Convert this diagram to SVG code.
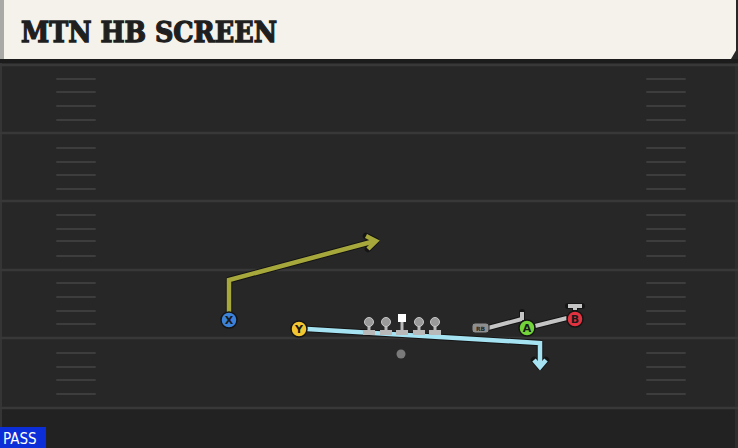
<svg xmlns="http://www.w3.org/2000/svg" width="738" height="448" viewBox="0 0 738 448">
<defs>
<style>
.yl{stroke:#383838;stroke-width:2.5}
.hs{stroke:#3d3d3d;stroke-width:2;stroke-linecap:round}
.out{fill:none;stroke:#151515;stroke-linejoin:round;stroke-linecap:round}
.xr{fill:none;stroke:#a7a83c;stroke-width:4.5;stroke-linejoin:miter;stroke-linecap:butt}
.yr{fill:none;stroke:#a6e3f2;stroke-width:4.5;stroke-linejoin:miter;stroke-linecap:butt}
.gr{fill:none;stroke:#c4c4c4;stroke-width:4;stroke-linecap:butt}
.ol{fill:#b9b9b9}
.lbl{font-family:"DejaVu Sans","Liberation Sans",sans-serif;font-weight:bold;font-size:11px;text-anchor:middle;fill:#1a1a1a}
</style>
</defs>
<rect x="0" y="0" width="738" height="448" fill="#272727"/>
<rect x="0" y="408" width="738" height="40" fill="#222222"/>
<rect x="0" y="60" width="2" height="388" fill="#353535"/>
<rect x="735" y="60" width="3" height="388" fill="#2e2e2e"/>
<g id="field">
<line class="yl" x1="0" y1="65" x2="738" y2="65"/>
<line class="yl" x1="0" y1="133" x2="738" y2="133"/>
<line class="yl" x1="0" y1="201" x2="738" y2="201"/>
<line class="yl" x1="0" y1="270" x2="738" y2="270"/>
<line class="yl" x1="0" y1="338" x2="738" y2="338"/>
<line class="yl" x1="0" y1="408" x2="738" y2="408"/>
<g id="hashL">
<line class="hs" x1="57" y1="79" x2="95" y2="79"/><line class="hs" x1="57" y1="92" x2="95" y2="92"/><line class="hs" x1="57" y1="106" x2="95" y2="106"/><line class="hs" x1="57" y1="120" x2="95" y2="120"/>
<line class="hs" x1="57" y1="148" x2="95" y2="148"/><line class="hs" x1="57" y1="162" x2="95" y2="162"/><line class="hs" x1="57" y1="175" x2="95" y2="175"/><line class="hs" x1="57" y1="189" x2="95" y2="189"/>
<line class="hs" x1="57" y1="215" x2="95" y2="215"/><line class="hs" x1="57" y1="229" x2="95" y2="229"/><line class="hs" x1="57" y1="241" x2="95" y2="241"/><line class="hs" x1="57" y1="256" x2="95" y2="256"/>
<line class="hs" x1="57" y1="283" x2="95" y2="283"/><line class="hs" x1="57" y1="297" x2="95" y2="297"/><line class="hs" x1="57" y1="311" x2="95" y2="311"/><line class="hs" x1="57" y1="324" x2="95" y2="324"/>
<line class="hs" x1="57" y1="353" x2="95" y2="353"/><line class="hs" x1="57" y1="367" x2="95" y2="367"/><line class="hs" x1="57" y1="380" x2="95" y2="380"/><line class="hs" x1="57" y1="394" x2="95" y2="394"/>
</g>
<use href="#hashL" x="590"/>
</g>
<g id="title">
<rect x="0" y="0" width="736" height="59" fill="#f5f2eb"/>
<rect x="0" y="0" width="4" height="59" fill="#a9aaa7"/>
<polygon points="731,59 738,59 738,47" fill="#272727"/>
<rect x="0" y="59" width="738" height="4" fill="#1c1c1c"/>
<text x="21" y="42" font-family="'DejaVu Serif','Liberation Serif',serif" font-weight="bold" font-size="27" fill="#1f1f1f" stroke="#1f1f1f" stroke-width="1.3" textLength="256" lengthAdjust="spacingAndGlyphs">MTN HB SCREEN</text>
</g>
<g id="connectors">
<path class="out" stroke-width="6.5" d="M229,318 V280 L375,241 M366,236 L376,241 L368,249"/>
<path class="xr" d="M229,318 V280 L375,241"/>
<path class="xr" stroke-linecap="round" stroke-linejoin="round" stroke-width="4" d="M366,236 L376,241 L368,249"/>
<path class="out" stroke-width="6.5" d="M307,329 L540,343 V366 M534,360 L540,367 L546,360"/>
<path class="yr" d="M307,329 L540,343 V366"/>
<path class="yr" stroke-linecap="round" stroke-linejoin="round" stroke-width="4" d="M534,360 L540,367 L546,360"/>
<path class="out" stroke-width="6" d="M488,328 L522,319 M522,312 V320 M535,326 L567,318 M575,310 V306 M568,306 H582"/>
<path class="gr" d="M488,328 L522,319 M522,312 V320 M535,326 L567,318 M575,310 V306 M568,306 H582"/>
</g>
<g id="oline">
<g id="lt"><rect class="ol" x="367.5" y="322" width="3" height="9"/><rect class="ol" x="363" y="330" width="12" height="5"/><circle cx="369" cy="322" r="4.5" fill="#9a9a9a" stroke="#c8c8c8" stroke-width="1"/></g>
<g id="lg"><rect class="ol" x="384.5" y="322" width="3" height="9"/><rect class="ol" x="380" y="330" width="12" height="5"/><circle cx="386" cy="322" r="4.5" fill="#9a9a9a" stroke="#c8c8c8" stroke-width="1"/></g>
<g id="c"><rect class="ol" x="400.5" y="321" width="3" height="10"/><rect class="ol" x="396" y="330" width="12" height="5"/><rect x="398" y="314" width="8" height="8" fill="#ffffff"/></g>
<g id="rg"><rect class="ol" x="417.5" y="322" width="3" height="9"/><rect class="ol" x="413" y="330" width="12" height="5"/><circle cx="419" cy="322" r="4.5" fill="#9a9a9a" stroke="#c8c8c8" stroke-width="1"/></g>
<g id="rt"><rect class="ol" x="433.5" y="322" width="3" height="9"/><rect class="ol" x="429" y="330" width="12" height="5"/><circle cx="435" cy="322" r="4.5" fill="#9a9a9a" stroke="#c8c8c8" stroke-width="1"/></g>
</g>
<g id="qb"><circle cx="401" cy="354" r="4.5" fill="#7a7a7a"/></g>
<g id="rb"><rect x="472" y="323" width="17" height="10" rx="3" fill="#8e8e8e" stroke="#2a2a2a" stroke-width="1"/><text x="480.5" y="331" font-family="'DejaVu Sans',sans-serif" font-weight="bold" font-size="6" text-anchor="middle" fill="#2a2a2a">RB</text></g>
<g id="X"><circle cx="229" cy="320" r="8" fill="#3b82d8" stroke="#141414" stroke-width="1.5"/><text class="lbl" x="229" y="324">X</text></g>
<g id="Y"><circle cx="299" cy="329" r="8" fill="#f3c531" stroke="#141414" stroke-width="1.5"/><text class="lbl" x="299" y="333">Y</text></g>
<g id="A"><circle cx="527" cy="328" r="8" fill="#72d43a" stroke="#141414" stroke-width="1.5"/><text class="lbl" x="527" y="332">A</text></g>
<g id="B"><circle cx="575" cy="319" r="8" fill="#e2323f" stroke="#141414" stroke-width="1.5"/><text class="lbl" x="575" y="323">B</text></g>
<g id="pass"><rect x="0" y="427" width="46" height="21" fill="#0b2ed8"/><text x="3" y="444" font-family="'DejaVu Sans Condensed','Liberation Sans',sans-serif" font-size="15" fill="#ffffff">PASS</text></g>
</svg>
